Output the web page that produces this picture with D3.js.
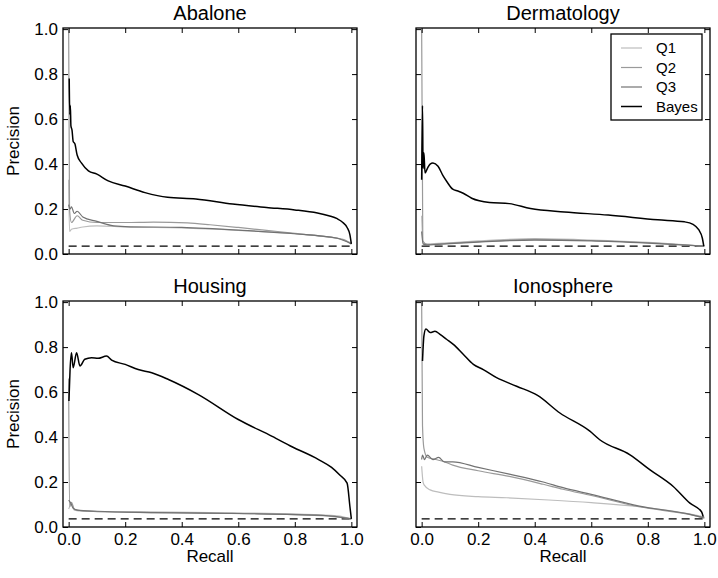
<!DOCTYPE html>
<html>
<head>
<meta charset="utf-8">
<style>
  body { margin: 0; background: #fff; }
  text { font-family: "Liberation Sans", Arial, sans-serif; }
</style>
</head>
<body>
<div id="chart"></div>
<script src="https://cdn.jsdelivr.net/npm/d3@7"></script>
<script>
var width = 718, height = 578;

var titles = ['Abalone', 'Dermatology', 'Housing', 'Ionosphere'];
var seriesNames = ['Q1', 'Q2', 'Q3', 'Bayes'];
var tickValues = [0, 0.2, 0.4, 0.6, 0.8, 1.0];
// positive rate of each data set (dashed line)
var baselines = [0.035, 0.035, 0.036, 0.036];

// [recall, precision]
var abaloneQ1 = [[0,0.33],[0.003,0.10],[0.01,0.11],[0.03,0.115],[0.05,0.12],[0.1,0.125],[0.2,0.12],[0.4,0.116],[0.6,0.105],[0.8,0.09],[0.95,0.07],[1.0,0.05]];
var abaloneQ2 = [[0,1.0],[0.003,0.2],[0.01,0.14],[0.03,0.17],[0.05,0.15],[0.1,0.14],[0.2,0.14],[0.3,0.142],[0.42,0.138],[0.5,0.13],[0.6,0.118],[0.7,0.105],[0.8,0.092],[0.9,0.078],[0.97,0.065],[1.0,0.045]];
var abaloneQ3 = [[0,0.22],[0.005,0.2],[0.01,0.21],[0.02,0.18],[0.03,0.19],[0.05,0.165],[0.1,0.145],[0.15,0.127],[0.2,0.122],[0.4,0.118],[0.6,0.106],[0.8,0.09],[0.95,0.07],[1.0,0.045]];
var abaloneBayes = [[0.002,0.78],[0.004,0.62],[0.006,0.66],[0.008,0.57],[0.012,0.55],[0.016,0.5],[0.022,0.49],[0.03,0.44],[0.045,0.405],[0.07,0.37],[0.1,0.355],[0.14,0.325],[0.2,0.302],[0.27,0.273],[0.35,0.252],[0.45,0.245],[0.58,0.222],[0.7,0.207],[0.8,0.196],[0.88,0.182],[0.92,0.17],[0.95,0.157],[0.97,0.14],[0.985,0.118],[0.995,0.085],[1.0,0.045]];

var dermaQ1 = [[0,0.17],[0.005,0.05],[0.02,0.045],[0.1,0.05],[0.2,0.058],[0.4,0.068],[0.6,0.062],[0.8,0.052],[1.0,0.035]];
var dermaQ2 = [[0,1.0],[0.004,0.06],[0.02,0.042],[0.1,0.048],[0.2,0.055],[0.4,0.065],[0.6,0.06],[0.8,0.05],[1.0,0.035]];
var dermaQ3 = [[0,0.1],[0.005,0.045],[0.02,0.04],[0.1,0.046],[0.2,0.053],[0.4,0.062],[0.6,0.058],[0.8,0.048],[1.0,0.035]];
var dermaBayes = [[0,0.33],[0.003,0.66],[0.005,0.38],[0.008,0.45],[0.012,0.36],[0.02,0.38],[0.03,0.40],[0.04,0.405],[0.058,0.39],[0.076,0.347],[0.09,0.32],[0.11,0.288],[0.128,0.28],[0.147,0.27],[0.177,0.248],[0.24,0.229],[0.31,0.224],[0.385,0.202],[0.505,0.187],[0.66,0.173],[0.835,0.152],[0.93,0.143],[0.96,0.132],[0.98,0.108],[0.993,0.07],[0.998,0.035]];

var housingQ1 = [[0,0.08],[0.01,0.1],[0.02,0.075],[0.05,0.07],[0.2,0.068],[0.5,0.064],[0.8,0.058],[0.95,0.05],[1.0,0.036]];
var housingQ2 = [[0,0.66],[0.003,0.09],[0.01,0.11],[0.02,0.08],[0.05,0.072],[0.2,0.066],[0.5,0.062],[0.8,0.055],[0.95,0.045],[1.0,0.036]];
var housingQ3 = [[0,0.12],[0.008,0.105],[0.015,0.085],[0.03,0.075],[0.1,0.07],[0.3,0.064],[0.6,0.06],[0.9,0.052],[1.0,0.036]];
var housingBayes = [[0.001,0.56],[0.005,0.70],[0.01,0.775],[0.016,0.708],[0.028,0.775],[0.04,0.716],[0.057,0.746],[0.081,0.753],[0.104,0.75],[0.134,0.76],[0.152,0.742],[0.2,0.723],[0.246,0.70],[0.294,0.686],[0.353,0.656],[0.459,0.589],[0.6,0.478],[0.72,0.403],[0.79,0.357],[0.884,0.30],[0.93,0.265],[0.96,0.23],[0.985,0.195],[0.995,0.09],[1.0,0.036]];

var ionoQ1 = [[0,0.27],[0.005,0.2],[0.01,0.185],[0.03,0.165],[0.06,0.155],[0.1,0.145],[0.2,0.135],[0.3,0.13],[0.45,0.12],[0.6,0.108],[0.77,0.09],[0.9,0.068],[1.0,0.045]];
var ionoQ2 = [[0,1.0],[0.003,0.45],[0.008,0.35],[0.02,0.31],[0.05,0.3],[0.08,0.29],[0.11,0.275],[0.2,0.25],[0.31,0.225],[0.43,0.19],[0.5,0.168],[0.6,0.14],[0.77,0.09],[0.95,0.055],[1.0,0.04]];
var ionoQ3 = [[0,0.3],[0.003,0.32],[0.01,0.3],[0.02,0.32],[0.04,0.3],[0.06,0.31],[0.08,0.29],[0.11,0.29],[0.2,0.265],[0.31,0.235],[0.43,0.2],[0.5,0.175],[0.6,0.145],[0.77,0.093],[0.95,0.056],[1.0,0.04]];
var ionoBayes = [[0.003,0.738],[0.008,0.85],[0.015,0.88],[0.03,0.865],[0.047,0.87],[0.065,0.857],[0.088,0.835],[0.112,0.812],[0.147,0.768],[0.183,0.723],[0.218,0.70],[0.265,0.664],[0.336,0.626],[0.41,0.585],[0.489,0.507],[0.595,0.426],[0.63,0.388],[0.737,0.321],[0.808,0.254],[0.89,0.18],[0.949,0.106],[0.99,0.068],[0.996,0.046]];

var curves = [
    [abaloneQ1, abaloneQ2, abaloneQ3, abaloneBayes],
    [dermaQ1, dermaQ2, dermaQ3, dermaBayes],
    [housingQ1, housingQ2, housingQ3, housingBayes],
    [ionoQ1, ionoQ2, ionoQ3, ionoBayes]
];

var clr = d3.scaleOrdinal()
    .domain(seriesNames)
    .range(['#bdbdbd', '#9a9a9a', '#727272', '#000000']);
var lw = {Q1: 1.2, Q2: 1.2, Q3: 1.2, Bayes: 1.5};

// panel boxes: left, top
var pw = 294, ph = 226;
var boxes = [[63, 28], [416, 28], [63, 301], [416, 301]];

var svg = d3.select('#chart')
    .append('svg')
    .attr('width', width)
    .attr('height', height);

svg.append('defs').selectAll('clipPath')
    .data(boxes)
    .enter().append('clipPath')
    .attr('id', function(d, i){ return 'clip' + i; })
    .append('rect')
    .attr('width', pw).attr('height', ph);

boxes.forEach(function(b, i){
    var g = svg.append('g').attr('transform', 'translate(' + b[0] + ',' + b[1] + ')');
    var x = d3.scaleLinear().domain([-0.02, 1.02]).range([0, pw]);
    var y = d3.scaleLinear().domain([0, 1.005]).range([ph, 0]);
    var left = (i % 2 == 0), bottom = (i >= 2);

    var line = d3.line()
        .curve(d3.curveMonotoneX)
        .x(function(d){ return x(d[0]); })
        .y(function(d){ return y(d[1]); });

    var plot = g.append('g').attr('clip-path', 'url(#clip' + i + ')');

    plot.append('line')
        .attr('x1', x(0)).attr('x2', x(1))
        .attr('y1', y(baselines[i])).attr('y2', y(baselines[i]))
        .attr('stroke', '#000')
        .attr('stroke-width', 1.3)
        .attr('stroke-dasharray', '8,5');

    plot.selectAll('path.curve')
        .data(curves[i])
        .enter().append('path')
        .attr('class', 'curve')
        .attr('d', line)
        .attr('fill', 'none')
        .attr('stroke', function(d, j){ return clr(seriesNames[j]); })
        .attr('stroke-width', function(d, j){ return lw[seriesNames[j]]; })
        .attr('stroke-linejoin', 'round');

    // inward ticks on every side, matplotlib style
    var ax = [
        d3.axisBottom(x).tickValues(tickValues).tickSizeInner(-5).tickSizeOuter(0),
        d3.axisTop(x).tickValues(tickValues).tickSizeInner(-5).tickSizeOuter(0).tickFormat(''),
        d3.axisLeft(y).tickValues(tickValues).tickSizeInner(-5).tickSizeOuter(0),
        d3.axisRight(y).tickValues(tickValues).tickSizeInner(-5).tickSizeOuter(0).tickFormat('')
    ];
    if(!bottom) ax[0].tickFormat('');
    if(!left) ax[2].tickFormat('');
    var pos = ['translate(0,' + ph + ')', 'translate(0,0)', 'translate(0,0)', 'translate(' + pw + ',0)'];
    ax.forEach(function(a, k){
        var ag = g.append('g').attr('transform', pos[k]).call(a);
        ag.select('.domain').remove();
        ag.selectAll('line').attr('stroke', '#000').attr('stroke-width', 1);
        ag.selectAll('text')
            .attr('font-family', '"Liberation Sans", Arial, sans-serif')
            .attr('font-size', 17)
            .attr('fill', '#000');
        if(k == 0) ag.selectAll('text').attr('dy', '0.71em').attr('y', 6);
        if(k == 2) ag.selectAll('text').attr('x', -5);
    });

    g.append('rect')
        .attr('width', pw).attr('height', ph)
        .attr('fill', 'none')
        .attr('stroke', '#000')
        .attr('stroke-width', 1.3);

    g.append('text')
        .attr('x', pw / 2).attr('y', -8)
        .attr('text-anchor', 'middle')
        .attr('font-size', 20)
        .text(titles[i]);

    if(left){
        g.append('text')
            .attr('transform', 'translate(-44,' + (ph / 2) + ') rotate(-90)')
            .attr('text-anchor', 'middle')
            .attr('font-size', 17)
            .text('Precision');
    }
    if(bottom){
        g.append('text')
            .attr('x', pw / 2).attr('y', ph + 35)
            .attr('text-anchor', 'middle')
            .attr('font-size', 17)
            .text('Recall');
    }

    if(i == 1){
        var lg = g.append('g').attr('transform', 'translate(195,6)');
        lg.append('rect')
            .attr('width', 91).attr('height', 86)
            .attr('fill', '#fff')
            .attr('stroke', '#000')
            .attr('stroke-width', 1.3);
        var item = lg.selectAll('g.item')
            .data(seriesNames)
            .enter().append('g')
            .attr('class', 'item')
            .attr('transform', function(d, j){ return 'translate(0,' + (14 + j * 19.5) + ')'; });
        item.append('line')
            .attr('x1', 10).attr('x2', 31)
            .attr('stroke', function(d){ return clr(d); })
            .attr('stroke-width', function(d){ return lw[d]; });
        item.append('text')
            .attr('x', 45).attr('dy', '0.35em')
            .attr('font-size', 15)
            .text(function(d){ return d; });
    }
});
</script>
</body>
</html>
